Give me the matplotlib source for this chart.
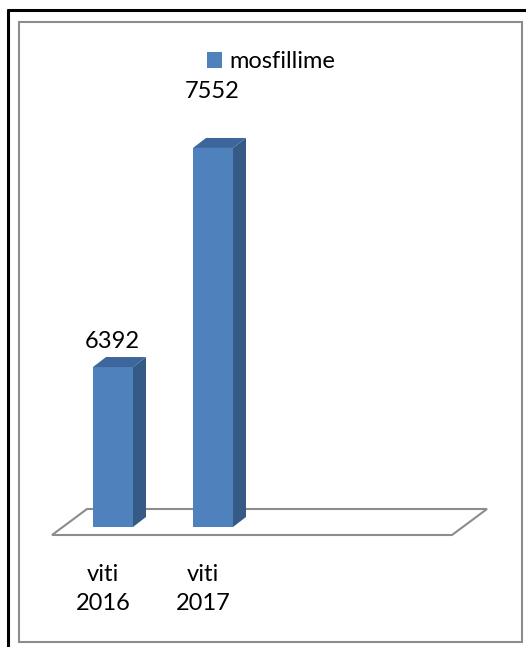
import matplotlib.pyplot as plt
from matplotlib.patches import Polygon, Rectangle
from matplotlib.lines import Line2D
from matplotlib.transforms import IdentityTransform

categories = ["viti\n2016", "viti\n2017", "", ""]
values = [6392, 7552]
series_name = "mosfillime"

W, H = 526, 647
DPI = 100
BASE = 5545  # value at the floor of the chart
FS = 17

plt.rcParams["font.family"] = ["Lato", "DejaVu Sans"]

fig = plt.figure(figsize=(W / DPI, H / DPI), dpi=DPI)


def fx(x):
    return x / W


def fy(y):
    return 1 - y / H


# outer frame (black, top + left) and inner gray frame
fig.add_artist(Line2D([fx(7), fx(W)], [fy(10), fy(10)], color="black", lw=2.2,
                      solid_capstyle="butt"))
fig.add_artist(Line2D([fx(8), fx(8)], [fy(9), fy(H)], color="black", lw=2.2,
                      solid_capstyle="butt"))
fig.add_artist(Rectangle((fx(19), fy(642)), fx(522) - fx(19), fy(22) - fy(642),
                         fill=False, edgecolor="#8c8c8c", lw=1.5))

# axes = plane of the bar fronts
left, right, bottom, top = 63, 463, 527, 100
ax = fig.add_axes([fx(left), fy(bottom), fx(right) - fx(left), fy(top) - fy(bottom)])
ax.set_xlim(-0.5, len(categories) - 0.5)
ax.set_ylim(BASE, 7806)
ax.set_axis_off()

front = "#4f81bd"
side = "#355a85"
top_c = "#3d679c"
dx, dy = 13, 10  # bar depth in pixels

# floor
tr = ax.transData
x0, yb = tr.transform((-0.5, BASE))
x1, _ = tr.transform((len(categories) - 0.5, BASE))
floor = [(x0 - 11, yb - 8), (x1 - 11, yb - 8), (x1 + 24, yb + 18), (x0 + 24, yb + 18)]
fig.add_artist(Polygon(floor, closed=True, facecolor="white", edgecolor="#8c8c8c",
                       lw=1.5, transform=IdentityTransform(), zorder=-1))

heights = [v - BASE for v in values]
bars = ax.bar(range(len(values)), heights, width=0.4, bottom=BASE, color=front,
              zorder=3, label=series_name)
for b in bars:
    (bx0, by0), (bx1, by1) = tr.transform([(b.get_x(), BASE),
                                           (b.get_x() + b.get_width(), b.get_y() + b.get_height())])
    side_face = [(bx1, by0), (bx1 + dx, by0 + dy), (bx1 + dx, by1 + dy), (bx1, by1)]
    top_face = [(bx0, by1), (bx0 + dx, by1 + dy), (bx1 + dx, by1 + dy), (bx1, by1)]
    fig.add_artist(Polygon(side_face, closed=True, facecolor=side, edgecolor="none",
                           transform=IdentityTransform()))
    fig.add_artist(Polygon(top_face, closed=True, facecolor=top_c, edgecolor="none",
                           transform=IdentityTransform()))

# value labels
label_offsets = [19, 50]
for i, v in enumerate(values):
    ax.annotate(str(v), xy=(i, v), xytext=(-1, label_offsets[i]), textcoords="offset pixels",
                ha="center", va="baseline", fontsize=FS, annotation_clip=False)

# category labels
for i, c in enumerate(categories):
    if c:
        ax.annotate(c, xy=(i, BASE), xytext=(-10, -37), textcoords="offset pixels",
                    ha="center", va="top", fontsize=FS, linespacing=1.5,
                    annotation_clip=False)

fig.legend(handles=[bars], labels=[series_name], loc="center left",
           bbox_to_anchor=(fx(207), fy(62)), frameon=False, fontsize=FS,
           handlelength=0.65, handleheight=0.65, handletextpad=0.3,
           borderpad=0, borderaxespad=0)

plt.savefig("out.png", dpi=DPI)
